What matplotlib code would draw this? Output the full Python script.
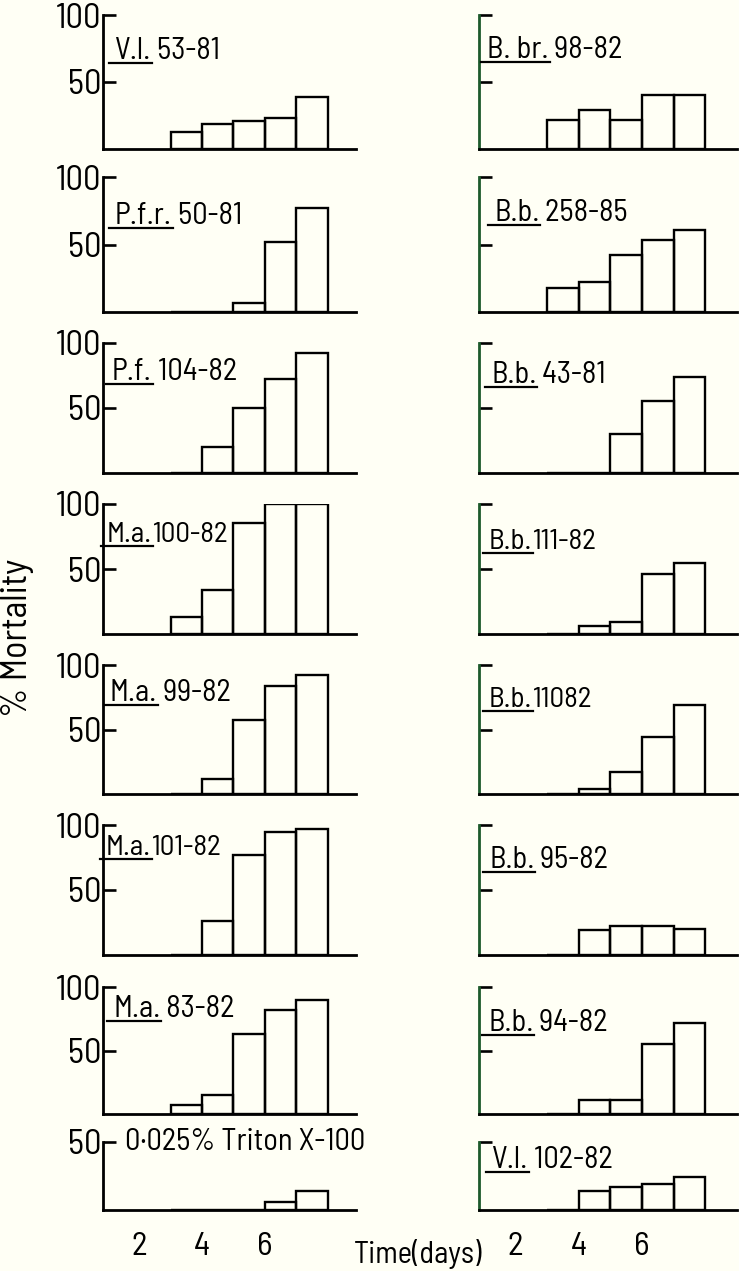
import matplotlib
matplotlib.use("Agg")
import matplotlib.pyplot as plt
from matplotlib.lines import Line2D

# данные (% смертности по дням 3..7)
days = [3, 4, 5, 6, 7]
x_ticks = [2, 4, 6]

left_genus = ["V.l.", "P.f.r.", "P.f.", "M.a.", "M.a.", "M.a.", "M.a.", ""]
left_code = [" 53-81", " 50-81", " 104-82", "100-82", " 99-82", "101-82", " 83-82",
             "0·025% Triton X-100"]
left_values = [
    [13, 19, 21, 23, 39],
    [0, 0, 7, 52, 77],
    [0, 20, 50, 72, 92],
    [13, 34, 85, 100, 100],
    [0, 12, 57, 84, 92],
    [0, 26, 77, 95, 97],
    [7, 15, 63, 82, 90],
    [0, 0, 0, 6, 14],
]

right_genus = ["B. br.", "B.b.", "B.b.", "B.b.", "B.b.", "B.b.", "B.b.", "V.l."]
right_code = [" 98-82", " 258-85", " 43-81", "111-82", "11082", " 95-82", " 94-82", " 102-82"]
right_values = [
    [22, 29, 22, 40, 40],
    [18, 22, 42, 53, 61],
    [0, 0, 30, 55, 74],
    [0, 6, 9, 46, 55],
    [0, 4, 17, 44, 69],
    [0, 19, 22, 22, 20],
    [0, 11, 11, 55, 72],
    [0, 14, 17, 19, 24],
]
y_top = [100, 100, 100, 100, 100, 100, 100, 50]

plt.rcParams['font.family'] = ['Barlow Semi Condensed', 'Roboto Condensed',
                               'Liberation Sans', 'DejaVu Sans']
W, H = 739, 1271
bg = '#fffff5'
fs = 22
fig = plt.figure(figsize=(W / 100, H / 100), dpi=100, facecolor=bg)

# положение строк в пикселях: верх (уровень 100) и базовая линия
row_top = [15, 177, 343, 504, 665, 825, 987, 1142]
row_base = [149, 312, 473, 634, 794, 955, 1114, 1210]
cols = [(103, 356), (479, 737)]
xlims = [(0.85, 8.9), (0.85, 9.0)]
title_y = [0.73, 0.71, 0.78, 0.76, 0.78, 0.82, 0.83, 1.0]
title_y_r = [0.74, 0.73, 0.75, 0.71, 0.73, 0.73, 0.72, 0.73]
title_x = [12, 12, 9, 4, 7, 3, 10, 22]
title_x_r = [8, 15, 12, 10, 10, 10, 9, 13]

genus_texts = []
for c, (x0, x1) in enumerate(cols):
    for r in range(8):
        ax = fig.add_axes([x0 / W, 1 - row_base[r] / H, (x1 - x0) / W,
                           (row_base[r] - row_top[r]) / H])
        ax.set_facecolor('none')
        vals = left_values[r] if c == 0 else right_values[r]
        ax.bar(days, vals, width=1, align='edge', fc='none', ec='black', lw=1.7)
        ax.set_xlim(*xlims[c])
        ax.set_ylim(0, y_top[r])
        for s in ['top', 'right']:
            ax.spines[s].set_visible(False)
        ax.spines['bottom'].set_linewidth(2.0)
        ax.spines['left'].set_linewidth(2.0)
        ax.spines['left'].set_color('black' if c == 0 else '#1d5a2c')
        ax.set_yticks([50, 100] if y_top[r] == 100 else [50])
        ax.tick_params(axis='y', direction='in', length=9, width=1.9, pad=1,
                       labelsize=25, left=True)
        if c == 1:
            ax.set_yticklabels([])
        if r == 7:
            ax.set_xticks(x_ticks)
            ax.tick_params(axis='x', length=0, pad=16, labelsize=24)
        else:
            ax.set_xticks([])

        genus = left_genus[r] if c == 0 else right_genus[r]
        code = left_code[r] if c == 0 else right_code[r]
        tx = (title_x[r] if c == 0 else title_x_r[r]) / (x1 - x0)
        ty = title_y[r] if c == 0 else title_y_r[r]
        tfs = fs - 1 if code[0] != ' ' else fs
        if genus:
            g = ax.text(tx, ty, genus, transform=ax.transAxes, fontsize=tfs,
                        ha='left', va='center')
            ax.annotate(code, xy=(1, 0), xycoords=g, ha='left', va='bottom',
                        fontsize=tfs)
            genus_texts.append(g)
        else:
            ax.text(tx, ty, code, transform=ax.transAxes, fontsize=fs,
                    ha='left', va='center')

fig.text(18 / W, 1 - 638 / H, '% Mortality', rotation=90, fontsize=26,
         ha='center', va='center')
fig.text(418 / W, 1 - 1254 / H, 'Time(days)', fontsize=fs, ha='center', va='center')

# подчёркивание сокращений видов
fig.canvas.draw()
rend = fig.canvas.get_renderer()
inv = fig.transFigure.inverted()
for g in genus_texts:
    bb = g.get_window_extent(rend)
    p0 = inv.transform((bb.x0 - 6, bb.y0 + 2))
    p1 = inv.transform((bb.x1 + 1, bb.y0 + 2))
    fig.add_artist(Line2D([p0[0], p1[0]], [p0[1], p1[1]], transform=fig.transFigure,
                          color='black', lw=1.6))

fig.savefig('out.png', dpi=100, facecolor=bg)
